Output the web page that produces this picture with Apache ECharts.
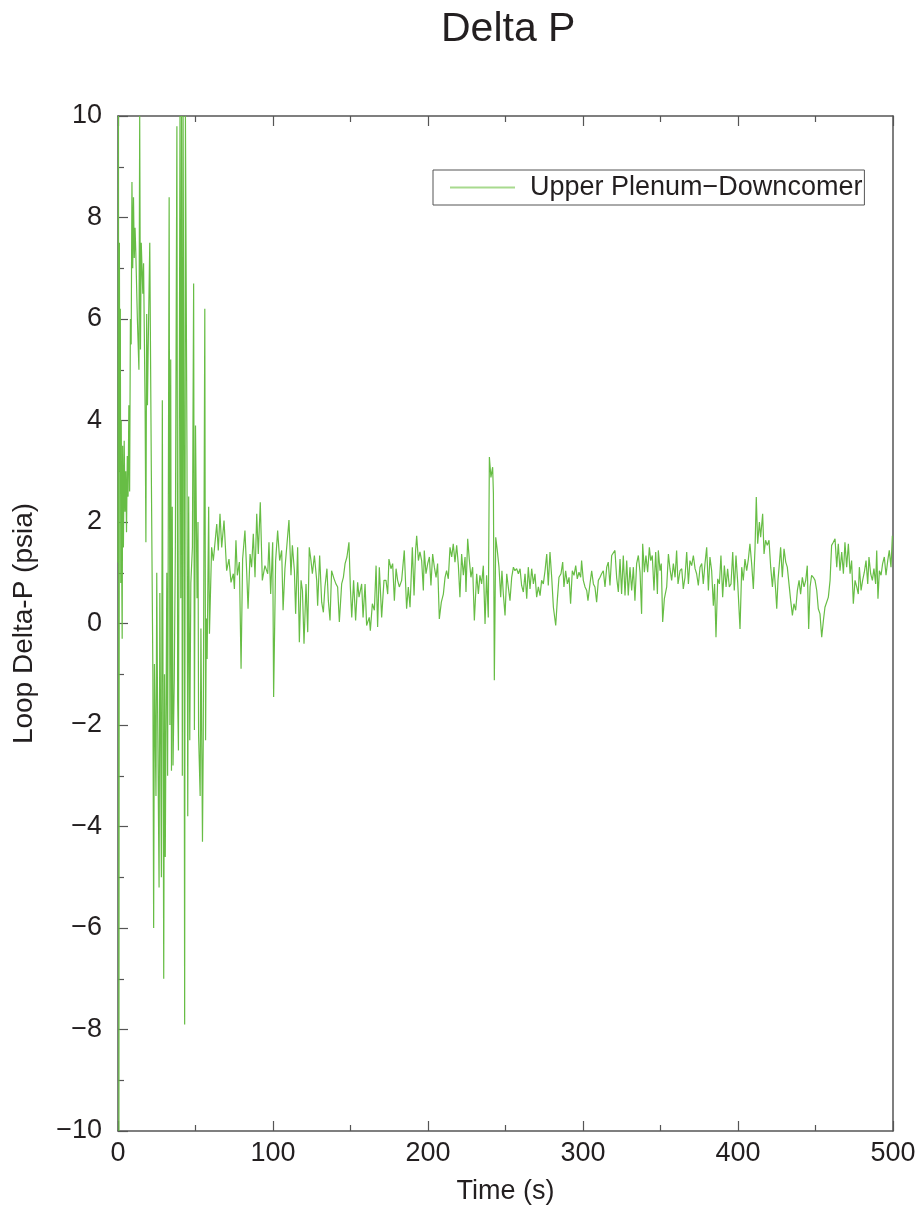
<!DOCTYPE html>
<html>
<head>
<meta charset="utf-8">
<title>Delta P</title>
<script src="https://cdn.jsdelivr.net/npm/echarts@6.0.0/dist/echarts.min.js"></script>
<style>
  html, body { margin: 0; padding: 0; background: #fff; }
  #deltaP { width: 919px; height: 1211px; }
</style>
</head>
<body>
<div id="deltaP"></div>
<script>
// [time (s), delta-P (psia)]
const transient = [
  [0, 1.2], [0.3, 10], [0.6, -10], [0.9, 7.5], [1.2, 3.0], [1.5, 6.2], [1.8, 0.8], [2.1, 4.0], [2.4, 1.0], [2.7, -0.3],
  [3, 3.5], [3.5, 1.5], [4, 3.6], [4.5, 2.2], [5, 3.0], [5.5, 1.8], [6, 3.3], [6.5, 2.5], [7, 4.3], [7.5, 2.6],
  [8, 6.0], [8.5, 5.5], [9, 8.7], [9.5, 7.0], [10, 8.4], [10.5, 7.2], [11, 7.8], [11.5, 7.3], [12.5, 6.0], [13.5, 5.0],
  [14, 10], [14.5, 5.4], [15, 7.5], [16, 6.5], [16.5, 7.1], [17.5, 4.2], [18, 1.6], [18.5, 6.1], [19, 4.3], [19.5, 5.5],
  [20.5, 7.5], [21.5, 3.0], [22.5, -1.0], [23, -6.0], [23.5, -0.8], [24.5, -3.4], [25, 1.0], [25.5, -1.5], [26.5, -5.2], [27, 0.6],
  [28, -5.0], [28.6, 4.4], [29.5, -7.0], [30, -1.0], [30.5, -4.6], [31.5, 1.0], [32, -3.0], [33, 8.4], [33.5, -2.0], [34, 5.2],
  [34.5, -2.9], [35, 2.3], [35.5, -2.8], [36.3, -1.1], [37, 1.5], [38, 9.8], [38.5, -1.5], [39, -2.5], [40, 10], [40.5, 0.5],
  [41, 10], [41.5, -3.0], [42, 10], [42.5, 4.3], [43, -7.9], [43.5, 10], [44.5, 3.3], [45, -3.8], [45.6, 2.5], [46.3, -2.3],
  [47, 0.8], [48, 1.5], [48.8, 6.7], [49.3, -2.1], [50, 3.9], [51, 0.5], [51.6, 2.0], [52, -2.2], [53, -3.4], [53.5, -0.1],
  [54.5, -4.3], [55, -2.3], [56, 6.2], [56.5, -2.3], [57, 0.1], [57.5, -0.7], [58.5, 2.3], [59, -0.2]
]

const settling = [
  [60.4, 1.50], [61.5, 1.24], [63.7, 1.96], [64.7, 1.44], [65.8, 2.16], [66.9, 1.50], [68.4, 2.03], [70.1, 1.04], [71.6, 1.27], [72.9, 0.81],
  [74.4, 0.98], [75.1, 0.68], [76.1, 1.64], [77.0, 0.95], [78.3, 1.21], [79.4, -0.89], [80.4, 1.27], [81.9, 1.83], [83.0, 1.04], [83.9, 0.29],
  [85.2, 1.37], [86.2, 1.11], [87.3, 1.77], [88.4, 0.91], [89.5, 2.16], [90.5, 1.37], [91.8, 2.39], [93.1, 0.85], [94.8, 1.14], [96.6, 0.98],
  [97.4, 1.60], [98.5, 0.58], [99.8, 1.60], [100.4, -1.45], [101.7, 1.24], [103.0, 1.83], [104.3, 1.24], [105.6, 1.44], [106.5, 0.26], [107.7, 1.08],
  [108.8, 1.11], [110.3, 2.04], [111.6, 0.95], [112.5, 1.54], [113.8, 1.04], [114.6, 0.19], [115.9, 1.50], [117.0, -0.37], [118.1, 0.85], [119.0, 0.65],
  [120.0, -0.40], [121.3, 0.78], [122.4, -0.17], [123.4, 1.50], [124.5, 1.24], [125.4, 0.98], [126.7, 1.34], [128.2, 0.85], [128.8, 0.35], [130.1, 1.34],
  [131.4, 0.42], [132.5, 0.22], [133.5, 0.72], [134.8, 1.08], [135.7, 0.45], [136.8, 0.06], [137.8, 1.04], [139.4, 0.88], [140.6, 0.78], [141.7, 0.72],
  [142.8, 0.03], [144.3, 0.78], [145.4, 0.91], [146.5, 1.18], [147.7, 1.31], [149.0, 1.60], [149.9, 0.72], [150.8, 0.12], [152.0, 0.85], [153.3, 0.06],
  [154.6, 0.81], [155.5, 0.52], [157.2, 0.78], [158.1, 0.12], [159.4, 0.78], [160.4, -0.04], [162.1, 0.12], [162.8, -0.14], [164.1, 0.39], [165.4, 0.26],
  [166.5, 1.14], [167.5, -0.07], [168.6, 1.11], [170.1, 0.12], [171.6, 0.85], [172.9, 0.85], [174.0, 0.58], [174.8, 1.27], [176.1, 1.08], [177.2, 1.18],
  [178.3, 0.45], [179.4, 1.08], [180.4, 0.85], [181.5, 0.72], [183.0, 0.85], [184.7, 1.44]
]

const midRun = [
  [186.2, 0.29], [187.3, 0.72], [188.4, 0.32], [189.9, 1.50], [191.0, 0.55], [192.0, 1.44], [192.7, 1.73], [193.8, 1.24], [194.8, 1.41], [195.9, 1.24],
  [197.0, 0.65], [197.6, 1.44], [198.7, 0.98], [199.8, 1.18], [200.9, 1.31], [201.9, 0.75], [203.0, 1.37], [204.1, 1.11], [205.2, 0.91], [206.2, 1.18],
  [207.3, 0.09], [208.6, 0.42], [209.9, 0.58], [211.0, 0.91], [212.0, 1.04], [213.1, 0.88], [214.2, 1.50], [215.3, 1.31], [216.3, 1.57], [217.4, 1.21],
  [218.5, 1.54], [219.6, 1.14], [220.6, 0.52], [221.7, 1.37], [222.8, 0.95], [223.9, 1.31], [224.5, 0.62], [225.6, 1.67], [226.7, 1.24], [227.7, 0.91],
  [228.8, 1.11], [229.9, 0.06], [231.4, 0.98], [232.5, 0.58], [233.5, 0.95], [234.6, 0.78], [235.7, 1.14], [236.8, -0.01], [237.8, 0.95], [238.9, 0.12],
  [239.6, 3.28], [240.6, 2.88], [241.7, 3.08], [242.2, 2.56], [242.8, -1.12], [243.7, 1.70], [244.7, 1.44], [245.8, 1.11], [246.9, 0.52], [247.7, 1.04],
  [248.6, 0.58], [249.7, 0.16], [250.8, 0.98], [251.8, 0.72], [252.9, 0.45], [254.0, 0.91], [255.1, 1.11], [256.1, 1.04], [257.2, 1.08], [258.3, 0.98],
  [259.4, 1.08], [260.4, 0.75], [261.5, 0.62], [262.6, 0.98], [263.7, 0.49], [264.7, 1.11], [265.8, 0.68], [266.9, 1.08], [268.0, 0.78], [269.0, 0.98],
  [270.1, 0.52], [271.2, 0.72], [272.3, 0.55], [273.3, 0.85], [274.4, 0.78], [275.5, 1.04], [276.6, 1.37], [277.6, 0.75], [278.7, 1.41], [279.8, 0.91],
  [280.9, 0.32], [282.4, -0.04], [283.4, 0.45], [284.5, 0.91], [285.8, 0.98], [286.9, 1.21], [287.7, 0.72], [288.8, 1.04], [289.9, 0.78], [291.0, 0.91],
  [292.0, 0.39], [293.1, 1.04], [294.2, 0.95], [295.3, 1.14], [296.3, 0.88], [297.4, 1.01], [298.5, 0.91], [299.1, 1.24], [300.2, 0.85], [301.3, 0.72],
  [302.4, 0.65], [303.2, 0.45], [304.5, 0.78], [305.6, 1.04], [306.7, 0.78], [307.7, 0.72], [308.8, 0.42], [309.9, 0.85], [311.0, 0.91], [312.0, 0.98],
  [313.1, 1.04], [314.2, 0.72], [315.3, 1.11], [316.3, 1.21], [317.4, 0.75], [318.5, 1.34], [319.6, 1.37], [320.6, 1.44], [321.7, 0.91], [322.8, 0.62],
  [323.9, 1.27], [324.9, 0.58], [326.0, 1.34], [327.1, 0.55], [328.2, 1.24], [329.2, 0.55], [330.3, 1.11], [331.4, 0.65], [332.5, 1.11], [333.5, 0.45],
  [334.6, 1.18], [335.7, 1.34], [336.8, 1.01], [337.8, 0.19], [338.5, 1.57], [339.6, 1.01], [340.6, 1.34], [341.7, 1.01], [342.8, 1.50]
]

const lateRun = [
  [343.7, 1.24], [344.7, 1.34], [345.8, 0.65], [346.9, 1.41], [348.0, 0.58], [348.6, 1.44], [349.7, 1.04], [350.5, 1.18], [351.4, 0.03], [352.5, 0.49],
  [354.0, 0.72], [355.1, 1.37], [356.1, 1.08], [357.2, 0.85], [358.3, 1.18], [359.4, 0.91], [360.4, 1.44], [361.3, 0.78], [362.6, 1.04], [363.7, 1.08],
  [364.7, 0.68], [365.8, 0.91], [366.9, 1.41], [368.0, 0.78], [369.0, 1.24], [370.1, 1.14], [371.2, 1.34], [372.3, 1.08], [373.3, 0.98], [374.4, 0.75],
  [375.5, 1.11], [376.6, 1.18], [377.6, 0.78], [378.7, 1.18], [379.8, 1.50], [380.9, 0.65], [381.9, 1.31], [383.0, 1.04], [384.1, 0.35], [384.9, 0.78],
  [385.8, -0.27], [386.9, 0.88], [388.0, 0.78], [389.0, 1.34], [390.1, 0.52], [391.2, 1.14], [392.3, 0.72], [393.3, 1.08], [394.4, 0.72], [395.5, 0.78],
  [396.6, 1.41], [397.6, 0.65], [398.7, 1.34], [399.8, 0.81], [401.3, -0.11], [402.4, 1.11], [403.4, 0.85], [404.5, 1.27], [405.6, 1.04], [406.7, 1.27],
  [407.7, 1.57], [408.8, 1.18], [409.9, 0.68], [411.0, 1.50], [411.8, 2.49], [412.7, 1.57], [413.8, 2.00], [414.6, 1.70], [415.9, 2.16], [416.8, 1.37],
  [417.8, 1.64], [418.9, 1.54], [420.0, 1.64], [421.1, 1.11], [422.2, 0.72], [423.2, 1.11], [424.3, 0.65], [425.0, 0.29], [425.8, 0.85], [426.7, 1.18],
  [427.5, 1.50], [428.6, 0.91], [429.7, 1.47], [430.8, 1.21], [431.8, 1.11], [432.9, 0.78], [434.0, 0.45], [435.1, 0.16], [436.1, 0.39], [437.2, 0.26],
  [438.3, 0.65], [439.4, 0.85], [440.4, 0.58], [441.5, 0.91], [442.6, 0.72], [443.7, 0.85], [444.7, 1.14], [445.6, -0.11], [446.5, 0.72], [447.5, 0.95],
  [448.6, 0.91], [449.7, 0.85], [450.8, 0.65], [451.8, 0.29], [452.9, 0.19], [454.0, -0.27], [455.1, 0.06], [456.1, 0.32], [457.2, 0.35], [458.3, 0.52],
  [459.4, 0.85], [460.4, 1.54], [461.5, 1.60], [462.6, 1.67], [463.7, 1.11], [464.7, 1.57], [465.8, 1.04], [466.9, 1.41], [468.0, 0.98], [469.0, 1.60],
  [470.1, 1.11], [471.2, 1.57], [472.3, 0.98], [473.3, 1.24], [474.4, 0.39], [475.5, 0.85], [476.6, 0.72], [477.6, 0.58], [478.3, 1.11], [479.4, 0.65],
  [480.4, 0.85], [481.5, 1.01], [482.6, 1.24], [483.7, 0.78], [484.5, 1.31], [485.6, 0.98], [486.7, 0.85], [487.7, 1.08], [488.8, 0.78], [489.5, 1.44],
  [490.3, 0.49], [491.2, 1.04], [492.3, 0.95], [493.3, 1.18], [494.4, 1.31], [495.5, 0.95], [496.6, 1.24], [497.6, 1.44], [498.7, 1.11], [499.6, 1.73]
]

const seriesName = 'Upper Plenum\u2212Downcomer'
const xRange = [0, 500]
const yRange = [-10, 10]

const fontFamily = '"Liberation Sans", Arial, sans-serif'
const ink = '#231f20'
const frame = '#555555'
const green = '#67bd45'

let myChart = echarts.init(document.getElementById('deltaP'), null, { renderer: 'canvas' })

// minus sign like the original plot
function fmtTick (v) {
  return v < 0 ? '\u2212' + Math.abs(v) : String(v)
}

const tickStyle = { show: true, inside: true, length: 10, lineStyle: { color: frame, width: 1.2 } }
const minorStyle = { show: true, splitNumber: 2, length: 6, lineStyle: { color: frame, width: 1.2 } }

myChart.setOption({
  animation: false,
  backgroundColor: '#fff',
  textStyle: { fontFamily: fontFamily },
  title: {
    text: 'Delta P',
    left: 436,
    top: 4,
    textStyle: { fontSize: 41, fontWeight: 'normal', color: ink, fontFamily: fontFamily }
  },
  legend: {
    left: 433,
    top: 170,
    borderColor: frame,
    borderWidth: 1,
    borderRadius: 0,
    padding: [4, 2, 4, 17],
    itemWidth: 65,
    itemHeight: 2,
    icon: 'rect',
    textStyle: { fontSize: 27, color: ink, fontFamily: fontFamily, padding: [0, 0, 0, 10] },
    data: [{ name: seriesName, itemStyle: { color: '#a8da8e' } }]
  },
  grid: { left: 118, right: 26, top: 116, bottom: 80 },
  xAxis: [
    {
      type: 'value',
      min: xRange[0],
      max: xRange[1],
      interval: 100,
      name: 'Time (s)',
      nameLocation: 'middle',
      nameGap: 47,
      nameTextStyle: { fontSize: 27, color: ink },
      axisLine: { show: true, onZero: false, lineStyle: { color: frame, width: 1.5 } },
      axisTick: tickStyle,
      minorTick: minorStyle,
      axisLabel: { fontSize: 27, color: ink, margin: 9, formatter: fmtTick },
      splitLine: { show: false }
    },
    {
      type: 'value',
      position: 'top',
      min: xRange[0],
      max: xRange[1],
      interval: 100,
      axisLine: { show: true, onZero: false, lineStyle: { color: frame, width: 1.5 } },
      axisTick: tickStyle,
      minorTick: minorStyle,
      axisLabel: { show: false },
      splitLine: { show: false }
    }
  ],
  yAxis: [
    {
      type: 'value',
      min: yRange[0],
      max: yRange[1],
      interval: 2,
      name: 'Loop Delta-P (psia)',
      nameLocation: 'middle',
      nameGap: 80,
      nameTextStyle: { fontSize: 28, color: ink },
      axisLine: { show: true, onZero: false, lineStyle: { color: frame, width: 1.5 } },
      axisTick: tickStyle,
      minorTick: minorStyle,
      axisLabel: { fontSize: 27, color: ink, margin: 16, formatter: fmtTick },
      splitLine: { show: false }
    },
    {
      type: 'value',
      position: 'right',
      min: yRange[0],
      max: yRange[1],
      interval: 2,
      axisLine: { show: true, onZero: false, lineStyle: { color: frame, width: 1.5 } },
      axisTick: { show: false },
      axisLabel: { show: false },
      splitLine: { show: false }
    }
  ],
  series: [
    {
      name: seriesName,
      type: 'line',
      xAxisIndex: 0,
      yAxisIndex: 0,
      showSymbol: false,
      clip: true,
      lineStyle: { color: green, width: 1.2 },
      itemStyle: { color: green },
      data: transient.concat(settling, midRun, lateRun)
    }
  ]
})
</script>
</body>
</html>
